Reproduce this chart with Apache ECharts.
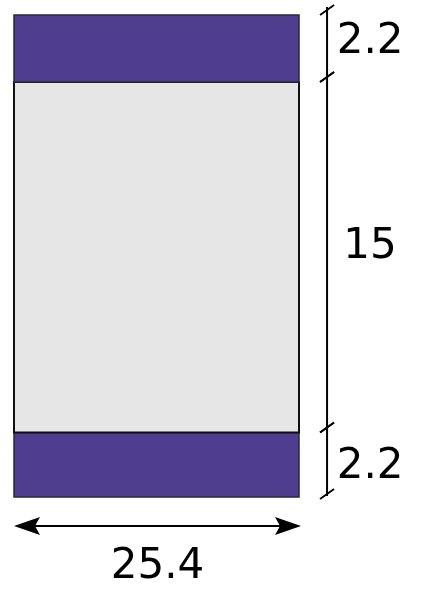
<!DOCTYPE html>
<html>
<head>
<meta charset="utf-8">
<script src="https://cdn.jsdelivr.net/npm/echarts@6/dist/echarts.min.js"></script>
<style>
  html, body { margin: 0; padding: 0; background: #fff; }
</style>
</head>
<body>
<div id="main" style="width: 426px; height: 593px"></div>
<script>
// 疊層板斷面：下層、核心、上層（由下往上）
const layerNames = ['bottom', 'core', 'top']
const layerLabels = ['2.2', '15', '2.2'] // 標註文字
const layerHeights = [2.6, 14.1, 2.7] // 圖上實際畫出的高度
const boardWidth = 25.4
const widthLabel = '25.4'

const layerFill = ['#4f3e8f', '#e6e6e6', '#4f3e8f']
const labelShift = [6, -5, -1] // 文字上下微調(px)
const fontFamily = '"DejaVu Sans", Verdana, sans-serif'

// 各層的上下邊界
const layerData = []
let acc = 0
layerHeights.forEach((h, i) => {
  layerData.push([0, boardWidth, acc, acc + h, i])
  acc += h
})
const totalHeight = acc
const dimX = boardWidth + 2.5 // 右側尺寸線位置
const arrowY = -1.17 // 底部寬度箭頭位置

const myChart = echarts.init(document.getElementById('main'))

const option = {
  animation: false,
  grid: { left: 14, right: 127, top: 15, bottom: 96 },
  xAxis: { type: 'value', min: 0, max: boardWidth, show: false },
  yAxis: { type: 'value', min: 0, max: totalHeight, show: false },
  series: [
    {
      // 三個矩形
      type: 'custom',
      clip: false,
      data: layerData,
      renderItem: function (params, api) {
        const p0 = api.coord([api.value(0), api.value(3)])
        const p1 = api.coord([api.value(1), api.value(2)])
        const idx = api.value(4)
        const isCore = idx === 1
        return {
          type: 'rect',
          shape: { x: p0[0], y: p0[1], width: p1[0] - p0[0], height: p1[1] - p0[1] },
          style: {
            fill: layerFill[idx],
            stroke: isCore ? '#111' : '#2a2a3a',
            lineWidth: isCore ? 2 : 1.5,
          },
        }
      },
    },
    {
      // 右側尺寸線 + 斜線刻度 + 文字
      type: 'custom',
      clip: false,
      data: layerData,
      renderItem: function (params, api) {
        const idx = api.value(4)
        const top = api.coord([dimX, api.value(3)])
        const bot = api.coord([dimX, api.value(2)])
        const children = []
        const tickY = [top[1] - 5, bot[1] - 5]
        if (idx === 0) tickY[1] = bot[1] - 3
        children.push({
          type: 'line',
          shape: { x1: top[0], y1: tickY[0] - (idx === 2 ? 3 : 0), x2: bot[0], y2: tickY[1] + (idx === 0 ? 2 : 0) },
          style: { stroke: '#000', lineWidth: 2 },
        })
        tickY.forEach((ty) => {
          children.push({
            type: 'line',
            shape: { x1: top[0] - 7, y1: ty + 5, x2: top[0] + 7, y2: ty - 5 },
            style: { stroke: '#000', lineWidth: 1.8 },
          })
        })
        children.push({
          type: 'text',
          style: {
            text: layerLabels[idx],
            x: top[0] + 43,
            y: (tickY[0] + tickY[1]) / 2 + labelShift[idx],
            align: 'center',
            verticalAlign: 'middle',
            fontSize: 42,
            fontFamily: fontFamily,
            fill: '#000',
          },
        })
        return { type: 'group', children: children }
      },
    },
    {
      // 底部寬度雙箭頭
      type: 'custom',
      clip: false,
      data: [[0, boardWidth, arrowY]],
      renderItem: function (params, api) {
        const a = api.coord([api.value(0), api.value(2)])
        const b = api.coord([api.value(1), api.value(2)])
        b[0] += 2
        const y = a[1]
        return {
          type: 'group',
          children: [
            { type: 'line', shape: { x1: a[0] + 20, y1: y, x2: b[0] - 20, y2: y }, style: { stroke: '#000', lineWidth: 2 } },
            {
              type: 'polygon',
              shape: { points: [[a[0], y], [a[0] + 26, y - 9], [a[0] + 21, y], [a[0] + 26, y + 9]] },
              style: { fill: '#000' },
            },
            {
              type: 'polygon',
              shape: { points: [[b[0], y], [b[0] - 26, y - 9], [b[0] - 21, y], [b[0] - 26, y + 9]] },
              style: { fill: '#000' },
            },
            {
              type: 'text',
              style: {
                text: widthLabel,
                x: (a[0] + b[0]) / 2,
                y: y + 41,
                align: 'center',
                verticalAlign: 'middle',
                fontSize: 42,
                fontFamily: fontFamily,
                fill: '#000',
              },
            },
          ],
        }
      },
    },
  ],
}

myChart.setOption(option, true)
</script>
</body>
</html>
